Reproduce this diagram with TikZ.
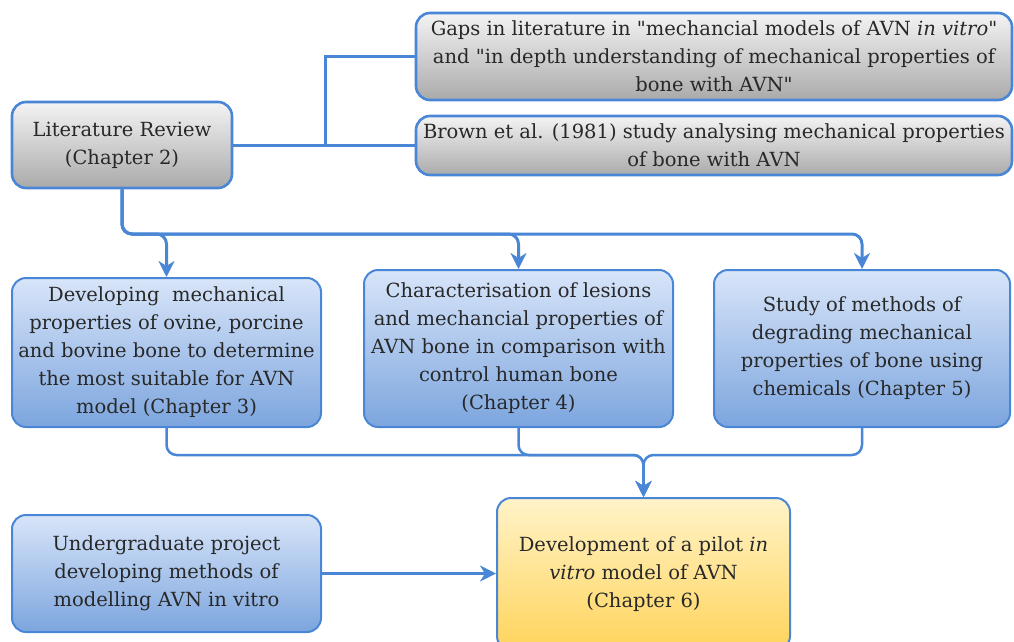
\documentclass[tikz,border=0pt]{standalone}
\usepackage{fontspec}
\setmainfont{DejaVu Serif}
\usetikzlibrary{arrows.meta}

\definecolor{edgeblue}{RGB}{74,134,214}
\definecolor{grayT}{RGB}{244,244,244}
\definecolor{grayB}{RGB}{170,170,170}
\definecolor{blueT}{RGB}{216,229,249}
\definecolor{blueB}{RGB}{124,165,222}
\definecolor{yelT}{RGB}{255,243,200}
\definecolor{yelB}{RGB}{255,212,92}
\definecolor{ink}{RGB}{40,40,40}

\newcommand{\qq}{\textquotedbl}

\begin{document}
\begin{tikzpicture}[x=1pt,y=-1pt,
  box/.style={draw=edgeblue, line width=2pt, rounded corners=14pt, align=center,
    inner sep=0pt, text=ink, font=\fontsize{19.5}{28}\selectfont},
  graybox/.style={box, line width=2.6pt, top color=grayT, bottom color=grayB},
  bluebox/.style={box, top color=blueT, bottom color=blueB},
  yelbox/.style={box, top color=yelT, bottom color=yelB},
  conn/.style={draw=edgeblue, line width=3pt, rounded corners=10pt},
  conn2/.style={draw=edgeblue, line width=2.5pt, rounded corners=10pt},
  tip/.style={-{Stealth[length=16pt,width=16pt,inset=5pt]}}
]
\useasboundingbox (0,0) rectangle (1014,642);

% literature review and its two findings
\node[graybox, minimum width=220pt, minimum height=86pt] (lit) at (122,145)
  {Literature Review\\(Chapter 2)};
\node[graybox, minimum width=596pt, minimum height=87pt] (gaps) at (714,56.5)
  {Gaps in literature in \qq mechancial models of AVN \textit{in vitro}\qq\\
   and \qq in depth understanding of mechanical properties of\\bone with AVN\qq};
\node[graybox, minimum width=596pt, minimum height=59pt] (brown) at (714,145.5)
  {Brown et al. (1981) study analysing mechanical properties\\of bone with AVN};

% chapters 3 to 5
\node[bluebox, minimum width=309pt, minimum height=149pt] (c3) at (166.5,352.5)
  {Developing\ \ mechanical\\properties of ovine, porcine\\and bovine bone to determine\\the most suitable for AVN\\model (Chapter 3)};
\node[bluebox, minimum width=309pt, minimum height=157pt] (c4) at (518.5,348.5)
  {Characterisation of lesions\\and mechancial properties of\\AVN bone in comparison with\\control human bone\\(Chapter 4)};
\node[bluebox, minimum width=296pt, minimum height=157pt] (c5) at (862,348.5)
  {Study of methods of\\degrading mechanical\\properties of bone using\\chemicals (Chapter 5)};

% undergraduate project and the pilot model
\node[bluebox, minimum width=309pt, minimum height=117pt] (ug) at (166.5,573.5)
  {Undergraduate project\\developing methods of\\modelling AVN in vitro};
\node[yelbox, minimum width=293pt, minimum height=152pt] (c6) at (643.5,574)
  {Development of a pilot \textit{in}\\\textit{vitro} model of AVN\\(Chapter 6)};

% junction points
\coordinate (j1) at (325,145);
\coordinate (bus) at (0,234);
\coordinate (low) at (0,455);

% literature review to its findings
\draw[conn] (lit.east) -- (lit.east -| brown.west);
\draw[conn, rounded corners=0pt] (j1) |- (gaps.west);

% literature review to chapters 3-5
\draw[conn, tip] (lit.south) |- (bus -| c3.north) -- (c3.north);
\draw[conn, tip] (lit.south) |- (bus -| c4.north) -- (c4.north);
\draw[conn, tip] (lit.south) |- (bus -| c5.north) -- (c5.north);

% chapters 3-5 to the pilot model
\draw[conn2, tip] (c3.south) |- (low -| c6.north) -- (c6.north);
\draw[conn2, tip] (c4.south) |- (low -| c6.north) -- (c6.north);
\draw[conn2, tip] (c5.south) |- (low -| c6.north) -- (c6.north);

% undergraduate project to the pilot model
\draw[conn2, tip] (ug.east) -- (ug.east -| c6.west);
\end{tikzpicture}
\end{document}
